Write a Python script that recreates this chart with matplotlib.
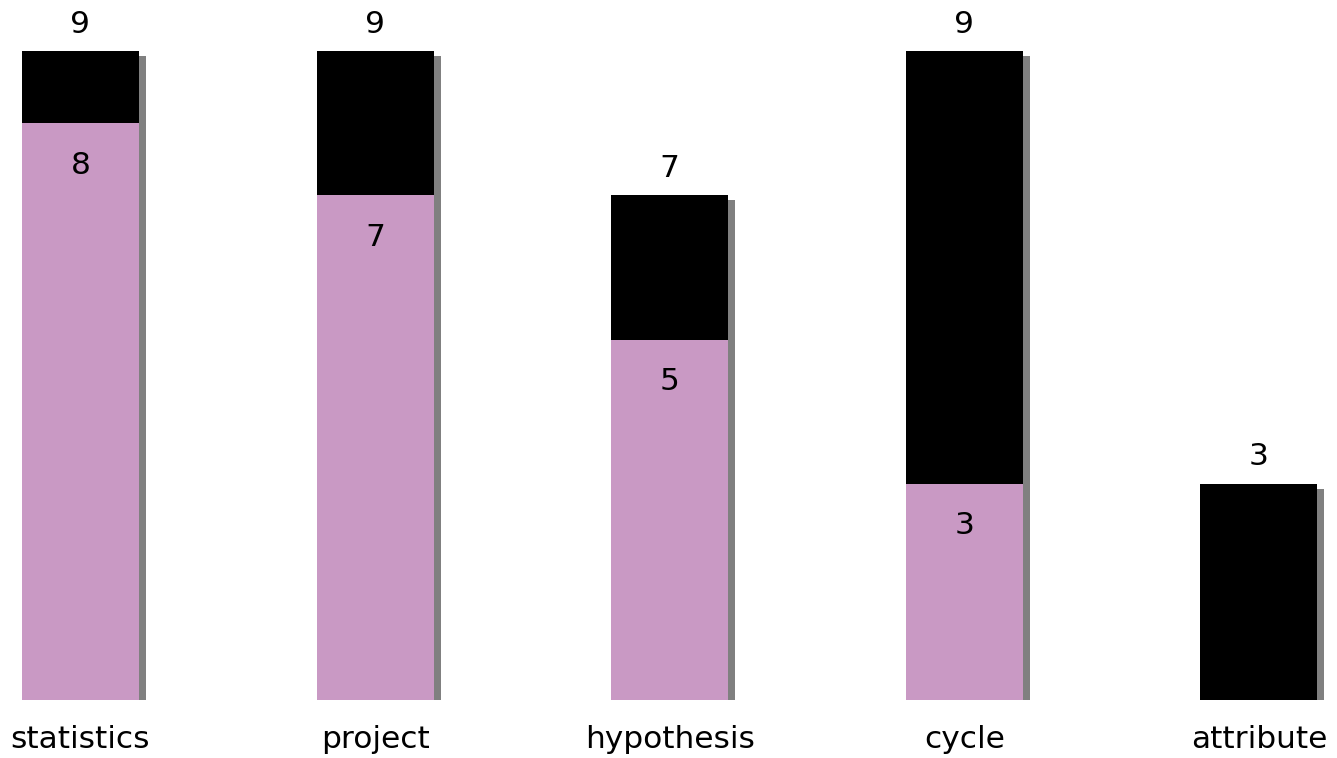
import matplotlib.pyplot as plt

categories = ["statistics", "project", "hypothesis", "cycle", "attribute"]
pink_vals = [8, 7, 5, 3, 0]
totals = [9, 9, 7, 9, 3]
black_vals = [t - p for t, p in zip(totals, pink_vals)]

pink = "#c999c4"
W, H = 1337, 758
fig = plt.figure(figsize=(W / 100, H / 100), dpi=100)
ax = fig.add_axes([0, 0, 1, 1])

step = 294.6  # px per category
unit = 72.1   # px per value unit
x0, ybase = 80.5, 700
ax.set_xlim(-x0 / step, (W - x0) / step)
ax.set_ylim(-(H - ybase) / unit, ybase / unit)
ax.axis("off")

xs = list(range(len(categories)))
bw = 117 / step
dx, dy = 7 / step, 5 / unit

# shadow
ax.bar([x + dx for x in xs], [t - dy for t in totals], width=bw, color="#808080", zorder=1)
ax.bar(xs, pink_vals, width=bw, color=pink, zorder=2)
ax.bar(xs, black_vals, bottom=pink_vals, width=bw, color="black", zorder=2)

fs = 22.5
for x, t, p, c in zip(xs, totals, pink_vals, categories):
    ax.text(x, t + 27 / unit, str(t), ha="center", va="center", fontsize=fs)
    if p > 0:
        ax.text(x, p - 42 / unit, str(p), ha="center", va="center", fontsize=fs)
    ax.text(x, -40 / unit, c, ha="center", va="center", fontsize=fs)

fig.savefig("out.png", dpi=100)
